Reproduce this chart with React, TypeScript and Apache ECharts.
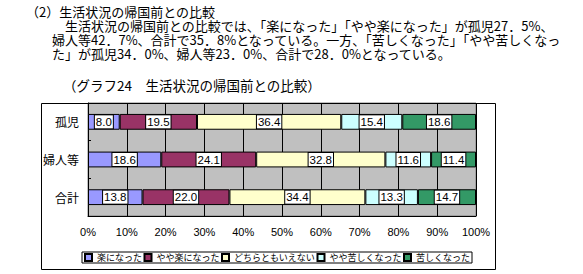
import React, { useEffect, useRef } from "react";
import * as echarts from "echarts";

const categories = ["孤児", "婦人等", "合計"];
const seriesNames = ["楽になった", "やや楽になった", "どちらともいえない", "やや苦しくなった", "苦しくなった"];
const easier = [8.0, 18.6, 13.8];
const slightlyEasier = [19.5, 24.1, 22.0];
const neutral = [36.4, 32.8, 34.4];
const slightlyHarder = [15.4, 11.6, 13.3];
const harder = [18.6, 11.4, 14.7];
const xTicks = [0, 10, 20, 30, 40, 50, 60, 70, 80, 90, 100];

const colors = ["#9999FF", "#993366", "#FFFFCC", "#CCFFFF", "#339966"];

const textLines = [
  "（2）生活状況の帰国前との比較",
  "　　　生活状況の帰国前との比較では、「楽になった」「やや楽になった」が孤児27．5%、",
  "　　婦人等42．7%、合計で35．8%となっている。一方、「苦しくなった」「やや苦しくなっ",
  "　　た」が孤児34．0%、婦人等23．0%、合計で28．0%となっている。",
];
const chartTitle = "（グラフ24　生活状況の帰国前との比較）";

const JP = "'Noto Sans CJK JP', sans-serif";

export default function App() {
  const ref = useRef<HTMLDivElement>(null);
  useEffect(() => {
    document.body.style.margin = "0";
    const chart = echarts.init(ref.current!, undefined, { renderer: "svg" });
    const raw = [easier, slightlyEasier, neutral, slightlyHarder, harder];
    const totals = categories.map((_, i) => raw.reduce((s, r) => s + r[i], 0));
    const series = raw.map((arr, si) => ({
      name: seriesNames[si],
      type: "bar",
      stack: "total",
      barWidth: "42%",
      data: arr.map((v, i) => ({ value: (v / totals[i]) * 100, raw: v })),
      itemStyle: { color: colors[si], borderColor: "#000", borderWidth: 1 },
      label: {
        show: true,
        position: "inside",
        formatter: (p: any) => p.data.raw.toFixed(1),
        backgroundColor: "#fff",
        borderColor: "#000",
        borderWidth: 1,
        padding: [1, 1, 0, 1],
        fontSize: 11.5,
        color: "#000",
        fontFamily: "'Liberation Sans', Arial, sans-serif",
      },
    }));
    const titles: any[] = [
      {
        text: textLines.join("\n"),
        left: 26,
        top: 5,
        padding: 0,
        textStyle: { fontSize: 13, lineHeight: 13.8, fontWeight: "normal", color: "#000", fontFamily: JP },
      },
      {
        text: chartTitle,
        left: 63,
        top: 78,
        padding: 0,
        textStyle: { fontSize: 13.5, fontWeight: "normal", color: "#000", fontFamily: JP },
      },
    ];
    chart.setOption({
      animation: false,
      backgroundColor: "#fff",
      title: titles,
      grid: {
        left: 88,
        top: 103,
        width: 388,
        height: 113,
        show: true,
        backgroundColor: "#C0C0C0",
        borderColor: "#808080",
        borderWidth: 1,
      },
      xAxis: {
        type: "value",
        min: xTicks[0],
        max: xTicks[xTicks.length - 1],
        interval: 10,
        axisLine: { show: true, lineStyle: { color: "#000" } },
        axisTick: { show: false },
        splitLine: { show: true, lineStyle: { color: "#000", width: 1 } },
        axisLabel: {
          formatter: "{value}%",
          fontSize: 11,
          color: "#000",
          margin: 10,
          fontFamily: "'Liberation Sans', Arial, sans-serif",
        },
      },
      yAxis: {
        type: "category",
        data: categories,
        inverse: true,
        axisLine: { show: true, lineStyle: { color: "#000" } },
        axisTick: { show: true, inside: true, length: 3, lineStyle: { color: "#000" } },
        axisLabel: { fontSize: 12, color: "#000", margin: 9, fontFamily: JP },
      },
      legend: {
        data: seriesNames,
        left: 82,
        top: 252,
        orient: "horizontal",
        icon: "rect",
        itemWidth: 7,
        itemHeight: 7,
        itemGap: 1.5,
        padding: [1, 2],
        borderColor: "#000",
        borderWidth: 1,
        borderRadius: 0,
        textStyle: { fontSize: 9, color: "#000", fontFamily: JP },
      },
      graphic: [
        {
          type: "rect",
          silent: true,
          z: 100,
          shape: { x: 41.5, y: 103.5, width: 454, height: 166 },
          style: { fill: "none", stroke: "#000", lineWidth: 1 },
        },
      ],
      series,
    });
    return () => chart.dispose();
  }, []);
  return <div ref={ref} style={{ width: 583, height: 274 }} />;
}
